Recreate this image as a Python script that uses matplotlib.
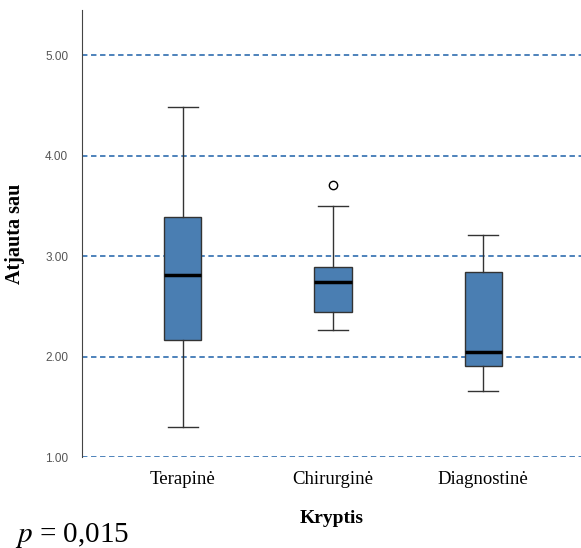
import numpy as np
import matplotlib.pyplot as plt

# values
groups = ['Terapinė', 'Chirurginė', 'Diagnostinė']
whislo = [1.30, 2.26, 1.66]
q1 = [2.16, 2.44, 1.91]
med = [2.81, 2.74, 2.05]
q3 = [3.39, 2.89, 2.84]
whishi = [4.48, 3.50, 3.21]
fliers = [[], [3.71], []]
yticks = [1.0, 2.0, 3.0, 4.0, 5.0]

stats = []
for i in range(len(groups)):
    stats.append(dict(label=groups[i], whislo=whislo[i], q1=q1[i], med=med[i],
                      q3=q3[i], whishi=whishi[i], fliers=fliers[i]))

fig = plt.figure(figsize=(5.81, 5.48), dpi=100)
ax = fig.add_axes([82/581, 1 - 457/548, 1 - 82/581, (457 - 10)/548])

for y in yticks:
    ax.axhline(y, color='#3f78b5', lw=1.3, ls=(0, (3, 2)), zorder=0)

ax.bxp(stats, positions=[1, 2, 3], widths=0.25, patch_artist=True,
       boxprops=dict(facecolor='#4a7eb2', edgecolor='#333333', lw=1),
       medianprops=dict(color='black', lw=2.5),
       whiskerprops=dict(color='#333333', lw=1),
       capprops=dict(color='#333333', lw=1),
       capwidths=0.2,
       flierprops=dict(marker='o', markerfacecolor='white', markeredgecolor='black',
                       markersize=6, markeredgewidth=1))

ax.set_xlim(0.33, 3.65)
ax.set_ylim(1.0, 5.45)
ax.set_yticks(yticks)
ax.set_yticklabels(['%.2f' % v for v in yticks], fontsize=8.5, color='#555555',
                   family='Liberation Sans')
ax.set_xticks([1, 2, 3])
ax.set_xticklabels(groups, fontsize=13.5, family='Liberation Serif')
ax.tick_params(axis='both', length=0)
ax.tick_params(axis='y', pad=10)
ax.tick_params(axis='x', pad=10)

for s in ['top', 'right', 'bottom']:
    ax.spines[s].set_visible(False)
ax.spines['left'].set_color('#444444')

ax.set_xlabel('Kryptis', fontsize=14, fontweight='bold', family='Liberation Serif',
              labelpad=16)
ax.set_ylabel('Atjauta sau', fontsize=14.5, fontweight='bold', family='Liberation Serif')
ax.yaxis.set_label_coords(-57/499, 0.5)

fig.text(15/581, 1 - 535/548, '$p$ = 0,015', fontsize=21, family='Liberation Serif',
         va='center', math_fontfamily='stix')

fig.savefig('out.png', dpi=100)
